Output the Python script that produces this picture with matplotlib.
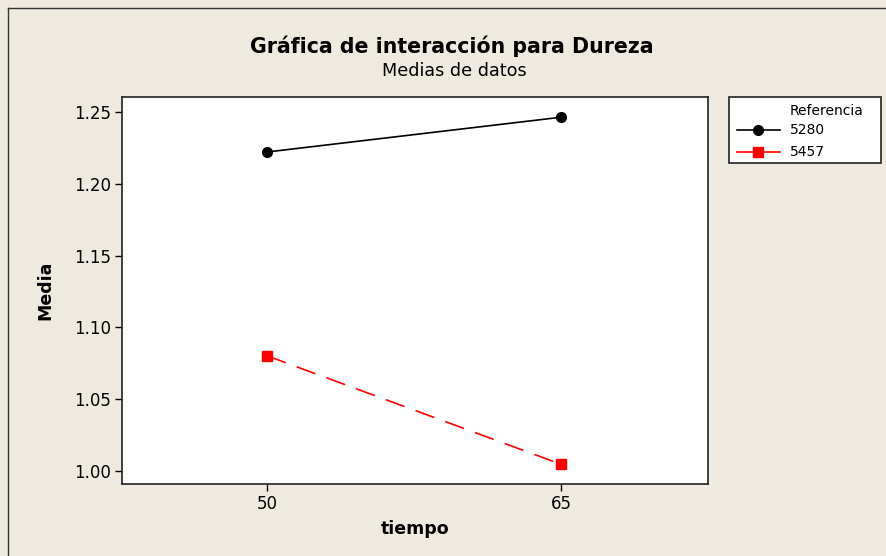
import matplotlib
matplotlib.use("Agg")
import matplotlib.pyplot as plt
from matplotlib.lines import Line2D
from matplotlib.patches import Rectangle

# data
tiempo = ["50", "65"]
grupos = ["5280", "5457"]
medias_5280 = [1.2221, 1.2463]
medias_5457 = [1.0802, 1.0047]

W, H = 887, 556
fig = plt.figure(figsize=(W / 100, H / 100), dpi=100)
fig.patch.set_facecolor("#eeeae0")

# axes box in pixels: left 122, right 708, top 97, bottom 484
ax = fig.add_axes([122 / W, 1 - 484 / H, (708 - 122) / W, (484 - 97) / H])
ax.set_facecolor("white")

x = list(range(len(tiempo)))
ax.plot(x, medias_5280, color="black", lw=1.2, marker="o", ms=7,
        label=grupos[0])
ax.plot(x, medias_5457, color="red", lw=1.2, ls=(0, (12, 7)), marker="s",
        ms=7, label=grupos[1])

ax.set_xlim(-0.493, 1.5)
ax.set_ylim(0.99095, 1.2604)
ax.set_xticks(x)
ax.set_xticklabels(tiempo)
yt = [1.00, 1.05, 1.10, 1.15, 1.20, 1.25]
ax.set_yticks(yt)
ax.set_yticklabels([f"{v:.2f}" for v in yt])
ax.tick_params(direction="out", length=5, width=1, labelsize=12, pad=3,
               colors="black")
for s in ax.spines.values():
    s.set_linewidth(1.2)
    s.set_color("#222222")

ax.set_xlabel("tiempo", fontsize=12.5, fontweight="bold", labelpad=5)
ax.set_ylabel("Media", fontsize=12.5, fontweight="bold", labelpad=14)

fig.text(452 / W, 1 - 46 / H, "Gráfica de interacción para Dureza",
         ha="center", va="center", fontsize=14.8, fontweight="bold")
fig.text(454 / W, 1 - 71 / H, "Medias de datos", ha="center", va="center",
         fontsize=12.7)

# legend box drawn by hand to get the Minitab layout
fig.add_artist(Rectangle((729 / W, 1 - 163 / H), 152 / W, 66 / H,
                         transform=fig.transFigure, facecolor="white",
                         edgecolor="#222222", lw=1.2))
fig.text(790 / W, 1 - 111 / H, "Referencia", ha="left", va="center",
         fontsize=10)
rows = [(130, "black", "o"), (152, "red", "s")]
for (yy, c, m), g in zip(rows, grupos):
    fig.add_artist(Line2D([737 / W, 780 / W], [1 - yy / H, 1 - yy / H],
                          color=c, lw=1.2, transform=fig.transFigure))
    fig.add_artist(Line2D([758.5 / W], [1 - yy / H], color=c, marker=m,
                          ms=7, ls="none", transform=fig.transFigure))
    fig.text(790 / W, 1 - yy / H, g, ha="left", va="center", fontsize=10)

# outer frame lines (left and top only)
fig.add_artist(Line2D([8 / W, 8 / W], [0, 1 - 8 / H], color="#333333", lw=1,
                      transform=fig.transFigure))
fig.add_artist(Line2D([8 / W, 1], [1 - 8 / H, 1 - 8 / H], color="#333333",
                      lw=1, transform=fig.transFigure))

fig.savefig("out.png", dpi=100, facecolor=fig.get_facecolor())
